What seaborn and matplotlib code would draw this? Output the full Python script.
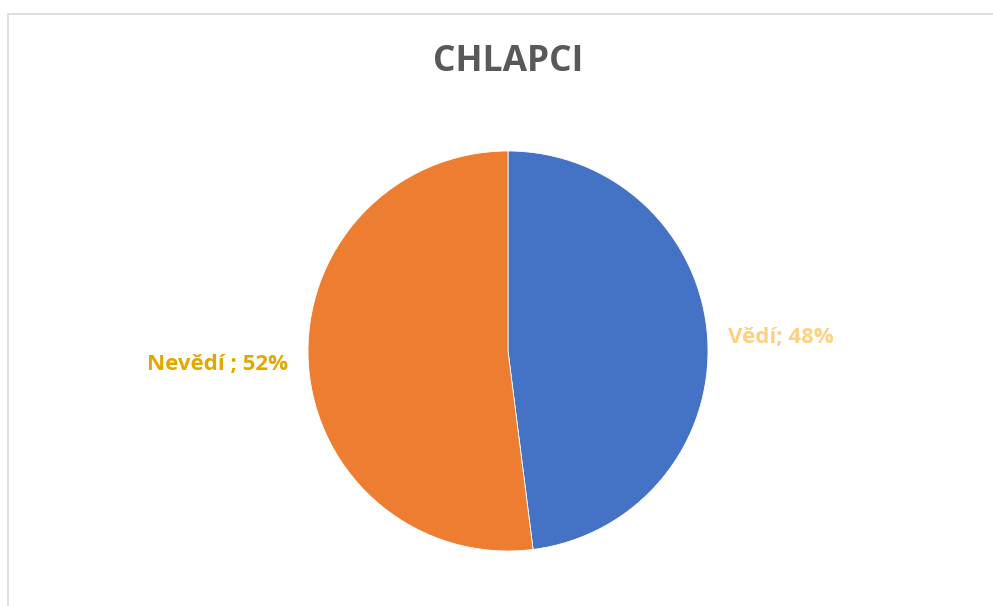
import seaborn as sns
import matplotlib.pyplot as plt
from matplotlib.lines import Line2D

labels = ['Vědí', 'Nevědí ']
values = [48, 52]
colors = ['#4472C4', '#ED7D31']
label_colors = ['#FFD17F', '#E3A800']

sns.set_theme(style='white')
plt.rcParams['font.family'] = ['Open Sans', 'DejaVu Sans']

fig = plt.figure(figsize=(9.93, 6.06), dpi=100)

# thin grey chart-area frame (top and left edges visible)
fig.add_artist(Line2D([8 / 993, 8 / 993], [0, 1 - 14 / 606], color='#D9D9D9', lw=1.2))
fig.add_artist(Line2D([8 / 993, 1], [1 - 14 / 606, 1 - 14 / 606], color='#D9D9D9', lw=1.2))

cx, cy, r = 508, 351, 200
ax = fig.add_axes([(cx - r) / 993, (606 - cy - r) / 606, 2 * r / 993, 2 * r / 606])

texts = [f'{l}; {v}%' for l, v in zip(labels, values)]
wedges, txts = ax.pie(values, labels=texts, colors=colors, startangle=90,
                      counterclock=False, labeldistance=1.1,
                      wedgeprops=dict(edgecolor='white', linewidth=0.6),
                      textprops=dict(fontsize=16, fontweight='bold'))
for t, c in zip(txts, label_colors):
    t.set_color(c)
    t.set_va('center')
ax.set_xlim(-1, 1)
ax.set_ylim(-1, 1)
ax.set_aspect('equal')

fig.text(508 / 993, 1 - 62 / 606, 'CHLAPCI', ha='center', va='center',
         fontsize=25.5, fontweight='bold', color='#595959')

fig.savefig('out.png', dpi=100)
